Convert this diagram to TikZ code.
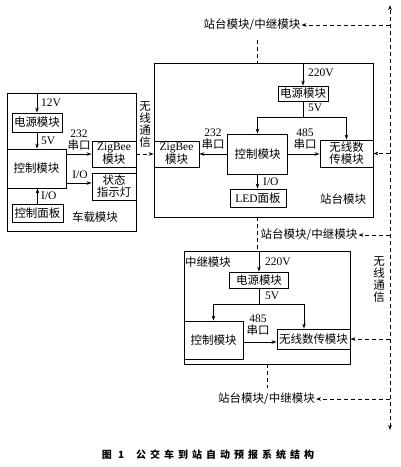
\documentclass[tikz,border=0pt]{standalone}
\usepackage{fontspec}
\setmainfont{Liberation Serif}
\newfontfamily\cjk{Noto Sans CJK SC}
\newfontfamily\capfont{Noto Sans CJK SC}[LetterSpace=40]
\usetikzlibrary{arrows.meta}
\newcommand\lab{\fontsize{11.5}{12}\selectfont}
\tikzset{
  box/.style={draw, line width=0.9pt, inner sep=0pt, align=center, font=\lab},
  lbl/.style={inner sep=1pt, align=center, font=\lab},
  zh/.style={font=\lab\cjk},
  tip/.tip={Stealth[length=5pt,width=3.6pt]},
  arr/.style={line width=0.8pt, -tip},
  ln/.style={line width=0.8pt},
  dln/.style={line width=0.9pt, dash pattern=on 4pt off 3pt},
  darr/.style={dln, -tip},
  dboth/.style={dln, tip-tip},
}
\begin{document}
\begin{tikzpicture}[x=1pt,y=-1pt]
\useasboundingbox (0,0) rectangle (400,467);
% ---------------- vehicle module
\node[box, minimum width=129pt, minimum height=138pt] (car) at (71.5,162) {};
\node[box, zh, minimum width=50pt, minimum height=19pt] (cpow) at (37,122.5) {电源模块};
\node[box, zh, minimum width=59pt, minimum height=39pt] (cctrl) at (36.5,168.5) {控制模块};
\node[box, minimum width=44pt, minimum height=26pt] (czig) at (114,154) {ZigBee\\{\cjk 模块}};
\node[box, zh, minimum width=44pt, minimum height=27pt] (cstat) at (114,186.5) {状态\\指示灯};
\node[box, zh, minimum width=51pt, minimum height=18pt] (cpanel) at (37.5,213) {控制面板};
\draw[arr] (car.north -| cpow.north) -- (cpow.north);
\draw[arr] (cpow.south) -- (cctrl.north -| cpow.south);
\draw[arr] (cctrl.east |- czig.west) -- (czig.west);
\coordinate (cio) at (100,183);
\draw[arr] (cctrl.east |- cio) -- (cstat.west |- cio);
\draw[arr] (cpanel.north) -- (cctrl.south -| cpanel.north);
\node[lbl, anchor=west] (l12v) at (40,103) {12V};
\node[lbl, anchor=west] (l5va) at (40,141) {5V};
\node[lbl] (l232a) at (79,140) {232\\{\cjk 串口}};
\node[lbl] (lioa) at (80,175) {I/O};
\node[lbl, anchor=west] (liob) at (40,196) {I/O};
\node[lbl, zh] (lcar) at (95,217) {车载模块};
\node[lbl, zh] (wl1) at (145,125) {无\\线\\通\\信};
% ---------------- station module
\node[box, minimum width=219pt, minimum height=154pt] (sta) at (263.5,140) {};
\node[box, zh, minimum width=50pt, minimum height=15pt] (spow) at (303,93.5) {电源模块};
\node[box, zh, minimum width=60pt, minimum height=40pt] (sctrl) at (257.5,154) {控制模块};
\node[box, minimum width=45pt, minimum height=26pt] (szig) at (176.5,154) {ZigBee\\{\cjk 模块}};
\node[box, zh, minimum width=53pt, minimum height=27pt] (swl) at (346.5,153.5) {无线数\\传模块};
\node[box, minimum width=56pt, minimum height=18pt] (sled) at (258,198) {LED{\cjk 面板}};
\draw[darr] (czig.east) -- (szig.west);
\coordinate (sfork) at (303,117);
\draw[arr] (sta.north -| spow.north) -- (spow.north);
\draw[ln] (spow.south) -- (sfork);
\draw[arr] (sfork) -| (sctrl.north);
\draw[arr] (sfork) -| (swl.north);
\draw[arr] (sctrl.west) -- (szig.east);
\draw[arr] (sctrl.east) -- (swl.west |- sctrl.east);
\draw[arr] (sctrl.south) -- (sled.north -| sctrl.south);
\node[lbl, anchor=west] (l220a) at (307,73) {220V};
\node[lbl, anchor=west] (l5vb) at (307,108) {5V};
\node[lbl] (l232b) at (213,139) {232\\{\cjk 串口}};
\node[lbl] (l485a) at (305,139) {485\\{\cjk 串口}};
\node[lbl, anchor=west] (lioc) at (262,182) {I/O};
\node[lbl, zh] (lsta) at (343,199) {站台模块};
% ---------------- dashed links
\coordinate (rtop) at (390,5);
\coordinate (rbot) at (390,430);
\draw[dboth] (rbot) -- (rtop);
\node[lbl, zh] (top) at (252,25) {站台模块/中继模块};
\draw[darr] (top.east -| rtop) -- (top.east);
\coordinate (tdash) at (257,40);
\draw[dln] (tdash) -- (sta.north -| tdash);
\draw[darr] (swl.east -| rtop) -- (swl.east);
\node[lbl, zh] (mid) at (309,235) {站台模块/中继模块};
\draw[darr] (mid.east -| rtop) -- (mid.east);
% ---------------- relay module
\node[box, minimum width=166pt, minimum height=113pt] (rel) at (267,307.5) {};
\coordinate (mdash) at (257,0);
\draw[dln] (sta.south -| mdash) -- (rel.north -| mdash);
\node[lbl, zh] (lrel) at (208,262) {中继模块};
\node[box, zh, minimum width=59pt, minimum height=16pt] (rpow) at (259,280) {电源模块};
\node[box, zh, minimum width=59pt, minimum height=38pt] (rctrl) at (213.5,340) {控制模块};
\node[box, zh, minimum width=73pt, minimum height=20pt] (rwl) at (313.5,339) {无线数传模块};
\coordinate (rfork) at (259,304);
\coordinate (rfr) at (304,304);
\draw[arr] (rel.north -| rpow.north) -- (rpow.north);
\draw[ln] (rpow.south) -- (rfork);
\draw[arr] (rfork) -| (rctrl.north);
\draw[arr] (rfork) -| (rwl.north -| rfr);
\coordinate (rio) at (0,342);
\draw[arr] (rctrl.east |- rio) -- (rwl.west |- rio);
\node[lbl, anchor=west] (l220b) at (264,262) {220V};
\node[lbl, anchor=west] (l5vc) at (264,296) {5V};
\node[lbl] (l485b) at (258,325) {485\\{\cjk 串口}};
\draw[darr] (rwl.east -| rtop) -- (rwl.east);
\node[lbl, zh] (bot) at (266.5,399) {站台模块/中继模块};
\draw[darr] (bot.east -| rtop) -- (bot.east);
\coordinate (bdend) at (267,388);
\draw[dln] (rel.south -| bdend) -- (bdend);
\node[lbl, zh] (wl2) at (379,280) {无\\线\\通\\信};
% ---------------- caption
\node[inner sep=0pt, font=\fontsize{10}{12}\selectfont\capfont\bfseries] (cap) at (208,455) {图 1\hspace{1.2em}公交车到站自动预报系统结构};
\end{tikzpicture}
\end{document}
